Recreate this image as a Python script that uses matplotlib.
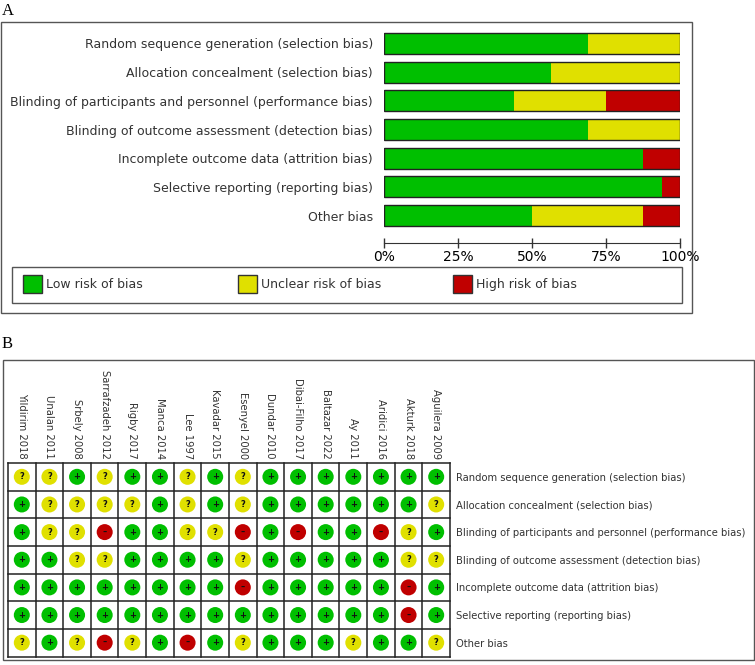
import matplotlib
matplotlib.use("Agg")
import matplotlib.pyplot as plt
from matplotlib.patches import Rectangle
import numpy as np

# studies (columns of panel B, left to right)
studies = ["Yildirim 2018", "Unalan 2011", "Srbely 2008", "Sarrafzadeh 2012",
           "Rigby 2017", "Manca 2014", "Lee 1997", "Kavadar 2015",
           "Esenyel 2000", "Dundar 2010", "Dibai-Filho 2017", "Baltazar 2022",
           "Ay 2011", "Aridici 2016", "Akturk 2018", "Aguilera 2009"]

domains = ["Random sequence generation (selection bias)",
           "Allocation concealment (selection bias)",
           "Blinding of participants and personnel (performance bias)",
           "Blinding of outcome assessment (detection bias)",
           "Incomplete outcome data (attrition bias)",
           "Selective reporting (reporting bias)",
           "Other bias"]

# judgement per study, one string per domain: + low, ? unclear, - high
judgements = ["??+?++?+?+++++++",
              "+????+?+?++++++?",
              "+??-++??-+-++-?+",
              "++??++++?+++++??",
              "++++++++-+++++-+",
              "++++++++++++++-+",
              "?+?-?+-+?+++?++?"]

legend_labels = ["Low risk of bias", "Unclear risk of bias", "High risk of bias"]
colors = {"+": "#00BF00", "?": "#E0E000", "-": "#C00000"}
txt = "#333333"

n = len(studies)
low = np.array([j.count("+") for j in judgements]) / n * 100
unclear = np.array([j.count("?") for j in judgements]) / n * 100
high = np.array([j.count("-") for j in judgements]) / n * 100

W, H = 755, 665


def fbox(l, t, r, b):
    return [l / W, 1 - b / H, (r - l) / W, (b - t) / H]


fig = plt.figure(figsize=(W / 100, H / 100), dpi=100)

# background axes in pixels for frames, panel letters and legend
bg = fig.add_axes([0, 0, 1, 1], zorder=0)
bg.set_xlim(0, W)
bg.set_ylim(H, 0)
bg.axis("off")

bg.add_patch(Rectangle((1, 22), 691, 291, fill=False, ec="#555555", lw=1))
bg.add_patch(Rectangle((12, 267), 670, 36, fill=False, ec="#555555", lw=1))
bg.add_patch(Rectangle((3, 360), 751, 300, fill=False, ec="#555555", lw=1))
bg.text(2, 11, "A", family="Liberation Serif", fontsize=12, va="center")
bg.text(2, 344, "B", family="Liberation Serif", fontsize=12, va="center")

for k, (lab, key) in enumerate(zip(legend_labels, ["+", "?", "-"])):
    x0 = 23 + 215 * k
    bg.add_patch(Rectangle((x0, 275), 19, 18, fc=colors[key], ec="#333333", lw=1))
    bg.text(x0 + 23, 284.5, lab, fontsize=9, color=txt, va="center")

# panel A: stacked percentage bars
axA = fig.add_axes(fbox(384, 29, 680, 230), zorder=1)
y = np.arange(len(domains))
axA.barh(y, low, height=0.73, color=colors["+"])
axA.barh(y, unclear, left=low, height=0.73, color=colors["?"])
axA.barh(y, high, left=low + unclear, height=0.73, color=colors["-"])
axA.barh(y, low + unclear + high, height=0.73, fill=False, ec="#222222", lw=1)
axA.set_xlim(0, 100)
axA.set_ylim(len(domains) - 0.5, -0.5)
axA.set_yticks(y, domains, fontsize=9, color=txt)
axA.tick_params(axis="y", length=0, pad=8)
axA.set_xticks([0, 25, 50, 75, 100], ["0%", "25%", "50%", "75%", "100%"],
               fontsize=9, color=txt)
axA.tick_params(axis="x", direction="inout", length=6.5, width=1,
                color="#333333", pad=2)
for lab, ha in zip(axA.get_xticklabels(), ["left", "center", "center", "center", "right"]):
    lab.set_ha(ha)
for s in ["left", "top", "right"]:
    axA.spines[s].set_visible(False)
axA.spines["bottom"].set_position(("outward", 9.4))
axA.spines["bottom"].set_color("#333333")
axA.patch.set_alpha(0)

# panel B: traffic light grid
axB = fig.add_axes(fbox(8, 463, 450, 656.5), zorder=1)
axB.set_xlim(-0.5, n - 0.5)
axB.set_ylim(len(domains) - 0.5, -0.5)
marks = {"+": "+", "?": "?", "-": "\u2013"}
for i, row in enumerate(judgements):
    xs = np.arange(n)
    cs = [colors[c] for c in row]
    axB.scatter(xs, np.full(n, i), s=133, c=cs, zorder=2, linewidths=0)
    for j, c in enumerate(row):
        axB.text(j, i, marks[c], ha="center", va="center", fontsize=6,
                 fontweight="bold", color="#111111", zorder=3)
for k in range(n + 1):
    axB.axvline(k - 0.5, color="#222222", lw=1.1, clip_on=False)
for k in range(len(domains) + 1):
    axB.axhline(k - 0.5, color="#222222", lw=1.1, clip_on=False)
for s in axB.spines.values():
    s.set_visible(False)
axB.xaxis.tick_top()
axB.set_xticks(np.arange(n), studies, rotation=-90, fontsize=7.2, color=txt)
axB.yaxis.tick_right()
axB.set_yticks(np.arange(len(domains)), domains, fontsize=7.2, color=txt)
axB.tick_params(length=0)
axB.tick_params(axis="x", pad=3)
axB.tick_params(axis="y", pad=4)

fig.savefig("out.png", dpi=100)
